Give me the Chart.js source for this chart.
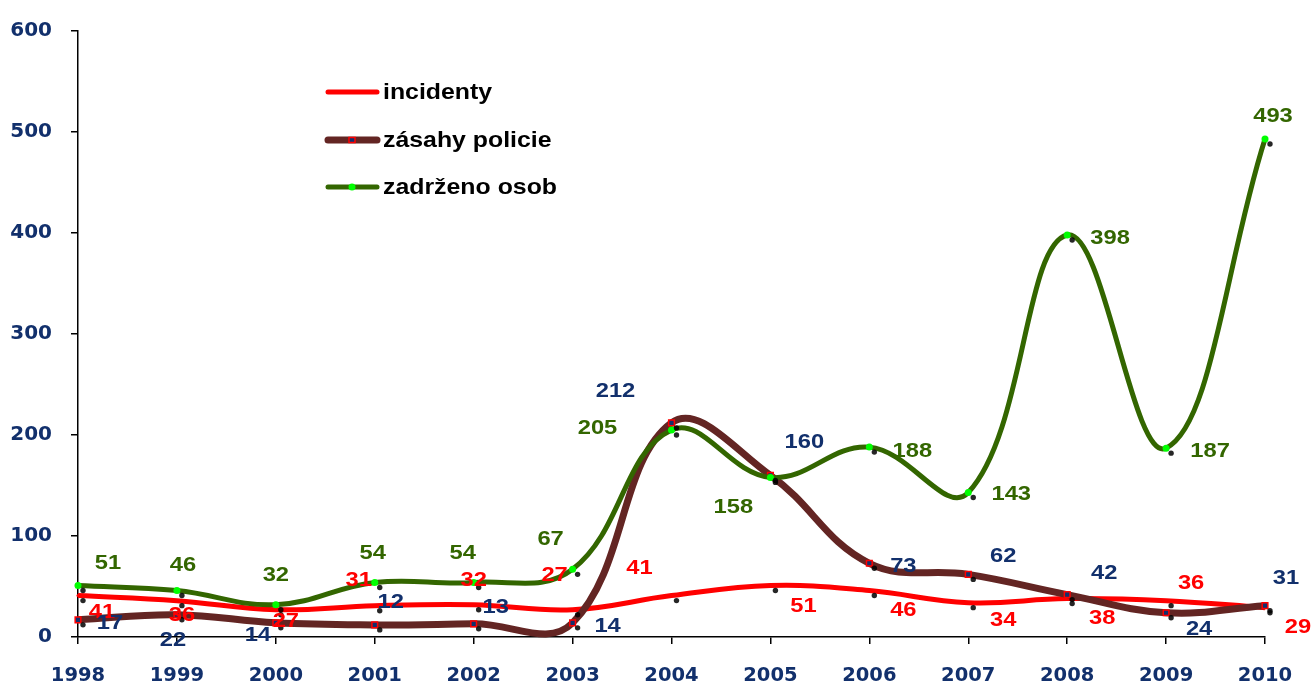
<!DOCTYPE html>
<html>
<head>
<meta charset="utf-8">
<script src="https://cdn.jsdelivr.net/npm/chart.js@4"></script>
<style>
  html, body { margin: 0; padding: 0; background: #fff; }
  #wrap { width: 1315px; height: 688px; position: relative; }
</style>
</head>
<body>
<div id="wrap"><canvas id="c" width="1315" height="688"></canvas></div>
<script>
// ---- data ----
const years = ['1998','1999','2000','2001','2002','2003','2004','2005','2006','2007','2008','2009','2010'];
const incidenty = [41, 36, 27, 31, 32, 27, 41, 51, 46, 34, 38, 36, 29];
const zasahyPolicie = [17, 22, 14, 12, 13, 14, 212, 160, 73, 62, 42, 24, 31];
const zadrzenoOsob = [51, 46, 32, 54, 54, 67, 205, 158, 188, 143, 398, 187, 493];
const yTicks = [0, 100, 200, 300, 400, 500, 600];
const seriesNames = ['incidenty', 'zásahy policie', 'zadrženo osob'];

// ---- label placement (pixel offsets from the point) ----
const offRed = [[24,17],[5,15],[10,11],[-16,-25],[0,-24],[-18,-35],[-32,-27],[33,21],[34,20],[35,18],[35,20],[25,-17],[33,19]];
const offBrown = [[32,3],[-4,25],[-18,12],[16,-23],[22,-17],[35,3],[-56,-32],[34,-33],[34,3],[35,-18],[37,-21],[33,16],[21,-27]];
const offGreen = [[30,-22],[6,-25],[0,-29],[-2,-29],[-11,-29],[-22,-30],[-74,-2],[-37,30],[43,4],[43,2],[43,3],[44,3],[8,-23]];

const NAVY = '#12306c';
const RED = '#ff0000';
const BROWN = '#632523';
const GREEN = '#336600';
const FONT = '"Liberation Sans", Arial, sans-serif';
const TICKFONT = '"DejaVu Sans", sans-serif';
const STRETCH = 1.13;

const labelColors = [RED, NAVY, GREEN];
const labelOffsets = [offRed, offBrown, offGreen];

function wideText(ctx, text, x, y, align) {
  ctx.save();
  ctx.translate(x, y);
  ctx.scale(STRETCH, 1);
  ctx.textAlign = align;
  ctx.fillText(text, 0, 0);
  ctx.restore();
}

const shadowAndLabels = {
  id: 'shadowAndLabels',
  afterDatasetsDraw(chart) {
    const ctx = chart.ctx;
    ctx.save();
    // small dark marker shadows
    chart.data.datasets.forEach((ds, i) => {
      const meta = chart.getDatasetMeta(i);
      meta.data.forEach(pt => {
        ctx.beginPath();
        ctx.fillStyle = 'rgba(0,0,0,0.85)';
        ctx.arc(pt.x + 5, pt.y + 5, 2.7, 0, Math.PI * 2);
        ctx.fill();
      });
    });
    // data labels
    ctx.font = 'bold 21px ' + FONT;
    ctx.textBaseline = 'middle';
    chart.data.datasets.forEach((ds, i) => {
      const meta = chart.getDatasetMeta(i);
      meta.data.forEach((pt, j) => {
        const o = labelOffsets[i][j];
        ctx.fillStyle = labelColors[i];
        wideText(ctx, String(ds.data[j]), pt.x + o[0], pt.y + o[1], 'center');
      });
    });
    // legend
    const leg = [
      {y: 92, color: RED, w: 5, marker: 'none'},
      {y: 140, color: BROWN, w: 7, marker: 'rect'},
      {y: 187, color: GREEN, w: 5, marker: 'circle'}
    ];
    leg.forEach((l, i) => {
      ctx.beginPath();
      ctx.lineCap = 'round';
      ctx.strokeStyle = l.color;
      ctx.lineWidth = l.w;
      ctx.moveTo(328, l.y);
      ctx.lineTo(377, l.y);
      ctx.stroke();
      if (l.marker === 'rect') {
        ctx.fillStyle = NAVY;
        ctx.strokeStyle = RED;
        ctx.lineWidth = 1.5;
        ctx.fillRect(349, l.y - 2.5, 6, 5);
        ctx.strokeRect(349, l.y - 2.5, 6, 5);
      } else if (l.marker === 'circle') {
        ctx.beginPath();
        ctx.fillStyle = '#00ff00';
        ctx.arc(352, l.y, 3.5, 0, Math.PI * 2);
        ctx.fill();
      }
      ctx.fillStyle = '#000';
      ctx.font = 'bold 22px ' + FONT;
      wideText(ctx, seriesNames[i], 383, l.y + 1, 'left');
    });
    ctx.restore();
  }
};

new Chart(document.getElementById('c'), {
  type: 'line',
  data: {
    labels: years,
    datasets: [
      {
        label: seriesNames[0], data: incidenty, order: 3,
        borderColor: RED, borderWidth: 5, tension: 0.4,
        pointRadius: 1.5, pointBackgroundColor: RED, pointBorderWidth: 0,
        capBezierPoints: false
      },
      {
        label: seriesNames[1], data: zasahyPolicie, order: 2,
        borderColor: BROWN, borderWidth: 7, tension: 0.4,
        pointStyle: 'rect', pointRadius: 4, pointBackgroundColor: NAVY,
        pointBorderColor: RED, pointBorderWidth: 1.5,
        capBezierPoints: false
      },
      {
        label: seriesNames[2], data: zadrzenoOsob, order: 1,
        borderColor: GREEN, borderWidth: 5, tension: 0.4,
        pointRadius: 3.5, pointBackgroundColor: '#00ff00', pointBorderWidth: 0,
        capBezierPoints: false
      }
    ]
  },
  options: {
    responsive: false,
    animation: false,
    devicePixelRatio: 1,
    clip: false,
    layout: { padding: { top: 21, right: 50, left: 0, bottom: 0 } },
    plugins: { legend: { display: false }, tooltip: { enabled: false } },
    scales: {
      x: {
        type: 'category',
        offset: false,
        grid: { display: true, drawOnChartArea: false, drawTicks: true, tickLength: 7, color: '#000', lineWidth: 1.5 },
        border: { display: true, color: '#000', width: 1.5 },
        ticks: { color: NAVY, font: { family: TICKFONT, size: 19.5, weight: 'bold' }, padding: 20, maxRotation: 0, autoSkip: false },
        afterFit: s => { s.height = 51; }
      },
      y: {
        min: 0, max: 600,
        afterBuildTicks: s => { s.ticks = yTicks.map(v => ({ value: v })); },
        grid: { display: true, drawOnChartArea: false, drawTicks: true, tickLength: 7, color: '#000', lineWidth: 1.5 },
        border: { display: true, color: '#000', width: 1.5 },
        ticks: { color: NAVY, font: { family: TICKFONT, size: 20, weight: 'bold' }, padding: 19 },
        afterFit: s => { s.width = 78; }
      }
    }
  },
  plugins: [shadowAndLabels]
});
</script>
</body>
</html>
